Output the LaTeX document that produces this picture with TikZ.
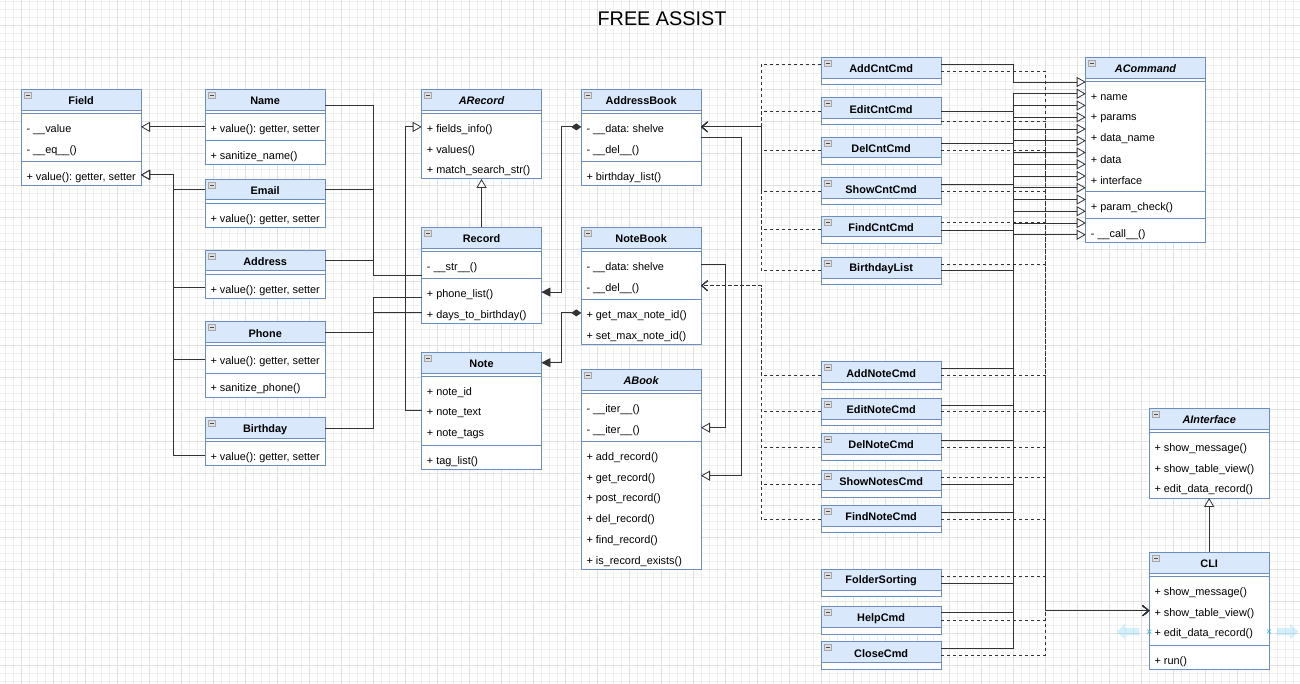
\documentclass[tikz,border=0pt]{standalone}
\usepackage{fontspec}
\setmainfont{Liberation Sans}
\usetikzlibrary{arrows.meta,calc}
\frenchspacing

\definecolor{umlhead}{HTML}{DAE8FC}
\definecolor{umlborder}{HTML}{6C8EBF}
\definecolor{linegray}{HTML}{333333}
\definecolor{gridminor}{HTML}{F0F0F0}
\definecolor{gridmajor}{HTML}{E0E0E0}
\definecolor{hoverblue}{HTML}{29B6F2}

\newcommand{\umlfont}{\fontsize{10.9}{12}\selectfont}

\tikzset{
  classbody/.style={draw=umlborder, fill=white, line width=0.8pt, inner sep=0pt, outer sep=0pt},
  classhead/.style={draw=umlborder, fill=umlhead, line width=0.8pt, inner sep=0pt, outer sep=0pt,
    minimum height=20.8pt},
  headtext/.style={inner sep=0pt, font=\umlfont\bfseries},
  rowtext/.style={inner sep=0pt, anchor=west},
  sepline/.style={draw=umlborder, line width=0.8pt},
  iconbox/.style={draw=gray!70, fill=gray!25, line width=0.5pt},
  link/.style={draw=linegray, line width=0.8pt},
  inherit/.style={link, -{Triangle[length=9pt, width=10pt, fill=white]}},
  owns/.style={link, {Diamond[length=10pt, width=7pt]}-{Triangle[length=9pt, width=9pt]}},
  uses/.style={link, dash pattern=on 3pt off 3pt, -{Straight Barb[length=6pt, width=10pt]}},
}

% class box: name, left, top, width, title, rows (s/ separator, g/ empty strip, t/ text row)
\newcommand{\umlclass}[6]{%
  \xdef\classh{20.8}%
  \foreach \kind/\txt in {#6}{%
    \if t\kind\pgfmathsetmacro{\tmph}{\classh+20.8}\else\pgfmathsetmacro{\tmph}{\classh+6.4}\fi
    \xdef\classh{\tmph}}%
  \node[classbody, minimum width=#4pt, minimum height=\classh pt, anchor=north west] (#1) at (#2,#3) {};
  \node[classhead, minimum width=#4pt, anchor=north west] (#1-head) at (#2,#3) {};
  \node[headtext] at ($(#1-head.center)+(0,1.2)$) {#5};
  \draw[iconbox] (#2+3,#3+3) rectangle ++(7,6);
  \draw[black!70, line width=0.5pt] (#2+4.5,#3+6) -- ++(4,0);
  \pgfmathsetmacro{\tmpy}{#3+20.8}\xdef\classy{\tmpy}%
  \xdef\classk{0}%
  \foreach \kind/\txt in {#6}{%
    \if t\kind
      \pgfmathtruncatemacro{\tmpk}{\classk+1}\xdef\classk{\tmpk}%
      \coordinate (#1-\classk) at (#2+5,\classy+10.4);
      \node[rowtext] at (#2+5,\classy+13) {\txt};
      \pgfmathsetmacro{\tmpy}{\classy+20.8}%
    \else
      \if s\kind\draw[sepline] (#2,\classy+3.2) -- ++(#4,0);\fi
      \pgfmathsetmacro{\tmpy}{\classy+6.4}%
    \fi
    \xdef\classy{\tmpy}}%
}

\begin{document}
\begin{tikzpicture}[x=1pt, y=-1pt, font=\umlfont]

% canvas and grid
\useasboundingbox (0,0) rectangle (1300,684);
\fill[white] (0,0) rectangle (1300,684);
\foreach \gx in {5.3,13.3,...,1300} \draw[gridminor, line width=0.6pt] (\gx,0) -- (\gx,684);
\foreach \gy in {1.3,9.3,...,684} \draw[gridminor, line width=0.6pt] (0,\gy) -- (1300,\gy);
\foreach \gx in {21.3,53.3,...,1300} \draw[gridmajor, line width=0.6pt] (\gx,0) -- (\gx,684);
\foreach \gy in {25.3,57.3,...,684} \draw[gridmajor, line width=0.6pt] (0,\gy) -- (1300,\gy);

\node[font=\fontsize{19.8}{22}\selectfont] (heading) at (662,19) {FREE ASSIST};

% fields
\umlclass{field}{21.3}{89.3}{119.7}{Field}{s/, t/- \_\_value, t/- \_\_eq\_\_(), s/, t/{+ value(): getter, setter}}
\umlclass{name}{205.3}{89.3}{119.7}{Name}{s/, t/{+ value(): getter, setter}, s/, t/+ sanitize\_name()}
\umlclass{email}{205.3}{179}{119.7}{Email}{s/, t/{+ value(): getter, setter}}
\umlclass{address}{205.3}{250}{119.7}{Address}{s/, t/{+ value(): getter, setter}}
\umlclass{phone}{205.3}{321.7}{119.7}{Phone}{s/, t/{+ value(): getter, setter}, s/, t/+ sanitize\_phone()}
\umlclass{birthday}{205.3}{417.7}{119.7}{Birthday}{s/, t/{+ value(): getter, setter}}

% records
\umlclass{arecord}{421.7}{89.3}{119.7}{\itshape ARecord}{s/, t/+ fields\_info(), t/+ values(), t/+ match\_search\_str()}
\umlclass{record}{421.7}{227.3}{119.7}{Record}{s/, t/- \_\_str\_\_(), s/, t/+ phone\_list(), t/+ days\_to\_birthday()}
\umlclass{note}{421.7}{352.3}{119.7}{Note}{s/, t/+ note\_id, t/+ note\_text, t/+ note\_tags, s/, t/+ tag\_list()}

% books
\umlclass{addressbook}{581.3}{89.3}{119.7}{AddressBook}{s/, t/- \_\_data: shelve, t/- \_\_del\_\_(), s/, t/+ birthday\_list()}
\umlclass{notebook}{581.3}{227.3}{119.7}{NoteBook}{s/, t/- \_\_data: shelve, t/- \_\_del\_\_(), s/, t/+ get\_max\_note\_id(), t/+ set\_max\_note\_id()}
\umlclass{abook}{581.3}{369.3}{119.7}{\itshape ABook}{s/, t/- \_\_iter\_\_(), t/- \_\_iter\_\_(), s/, t/+ add\_record(), t/+ get\_record(), t/+ post\_record(), t/+ del\_record(), t/+ find\_record(), t/+ is\_record\_exists()}

% commands and interface
\foreach \id/\ctop/\cname in {addcnt/57.3/AddCntCmd, editcnt/97.7/EditCntCmd, delcnt/137/DelCntCmd,
    showcnt/177.7/ShowCntCmd, findcnt/216/FindCntCmd, bdaylist/257.3/BirthdayList,
    addnote/361.7/AddNoteCmd, editnote/398.3/EditNoteCmd, delnote/433.3/DelNoteCmd,
    shownotes/470/ShowNotesCmd, findnote/505.3/FindNoteCmd, foldersort/569.3/FolderSorting,
    helpcmd/606.7/HelpCmd, closecmd/641.7/CloseCmd}
  \umlclass{\id}{821.3}{\ctop}{119.7}{\cname}{g/};
\umlclass{acommand}{1085.7}{57.3}{119.7}{\itshape ACommand}{s/, t/+ name, t/+ params, t/+ data\_name, t/+ data, t/+ interface, s/, t/+ param\_check(), s/, t/- \_\_call\_\_()}
\umlclass{ainterface}{1149.3}{408.3}{119.7}{\itshape AInterface}{s/, t/+ show\_message(), t/+ show\_table\_view(), t/+ edit\_data\_record()}
\umlclass{cli}{1149.3}{552.3}{119.7}{CLI}{s/, t/+ show\_message(), t/+ show\_table\_view(), t/+ edit\_data\_record(), s/, t/+ run()}

% bus lines
\coordinate (fbus) at (173.3,0);
\coordinate (rbus) at (373.3,0);
\coordinate (nbus) at (405.7,0);
\coordinate (cbus) at (561.7,0);
\coordinate (nbbus) at (725,0);
\coordinate (abbus) at (741,0);
\coordinate (lbus) at (761,0);
\coordinate (sbus) at (1013.3,0);
\coordinate (dbus) at (1045,0);
\coordinate (strend) at ($(record-1)+(0,10.4)$);

% field hierarchy
\draw[inherit] (name.west |- name-1) -- (field.east |- name-1);
\foreach \cls/\row in {email/email-head, address/address-1, phone/phone-1, birthday/birthday-1}
  \draw[inherit] (\cls.west |- \row) -| (fbus |- field-3) -- (field.east |- field-3);

% fields in a record
\draw[link] ($(name-head.east)+(0,6)$) -| (rbus |- strend) -- (record.west |- strend);
\draw[link] (email.east |- email-head) -| (rbus |- strend);
\draw[link] (address.east |- address-head) -| (rbus |- strend);
\draw[link] (phone.east |- phone-head) -| ($(rbus |- record-2)+(0,5)$) -- ($(record.west |- record-2)+(0,5)$);
\draw[link] (birthday.east |- birthday-head) -| (rbus |- record-3) -- (record.west |- record-3);

% record hierarchy
\draw[inherit] (record.north) -- (arecord.south);
\draw[inherit] (note.west |- note-2) -| (nbus |- arecord-1) -- (arecord.west |- arecord-1);

% books
\draw[owns] (addressbook.west |- addressbook-1) -| (cbus |- record-2) -- (record.east |- record-2);
\draw[owns] (notebook.west |- notebook-3) -| (cbus |- note-head) -- (note.east |- note-head);
\draw[inherit] ($(addressbook.east |- addressbook-1)+(0,10.4)$) -| (abbus |- abook-4) -- (abook.east |- abook-4);
\draw[inherit] (notebook.east |- notebook-1) -| (nbbus |- abook-2) -- (abook.east |- abook-2);

% commands use the books
\foreach \id/\dy in {addcnt/7, editcnt/13.3, delcnt/13, showcnt/13.3, findcnt/13.3, bdaylist/13.4}
  \draw[uses] ($(\id.north west)+(0,\dy)$) -| (lbus |- addressbook-1) -- (addressbook.east |- addressbook-1);
\foreach \id/\dy in {addnote/13.3, editnote/13.4, delnote/14, shownotes/14, findnote/14}
  \draw[uses] ($(\id.north west)+(0,\dy)$) -| (lbus |- notebook-2) -- (notebook.east |- notebook-2);

% commands extend ACommand and use the CLI
\foreach \id/\rs/\rd/\ty in {addcnt/7/13.7/82, editcnt/13.3/23.3/93.75, delcnt/6.7/13/105.5,
    showcnt/6.6/13.3/117.25, findcnt/14/6.7/129, bdaylist/13.4/7/140.75, addnote/6.6/13.3/152.5,
    editnote/6.7/13.4/164.25, delnote/6.7/14/176, shownotes/14/7.3/187.75, findnote/7/14/199.5,
    foldersort/14/6.7/211.25, helpcmd/6/13.3/223, closecmd/7/13.6/234.75}{
  \draw[inherit] ($(\id.north east)+(0,\rs)$) -| ($(sbus)+(0,\ty)$) -- ($(acommand.west |- sbus)+(0,\ty)$);
  \draw[uses] ($(\id.north east)+(0,\rd)$) -| (dbus |- cli-2) -- (cli.west |- cli-2);
}

% interface
\draw[inherit] (cli.north) -- (ainterface.south);

% hover marks round the CLI row
\fill[hoverblue, opacity=0.2] (1139.3,628) -- (1125,628) -- (1125,624) -- (1116.7,631.7) -- (1125,639.3) -- (1125,635.3) -- (1139.3,635.3) -- cycle;
\fill[hoverblue, opacity=0.2] (1276.7,628) -- (1290,628) -- (1290,624) -- (1298.3,631.7) -- (1290,639.3) -- (1290,635.3) -- (1276.7,635.3) -- cycle;
\draw[hoverblue, line width=0.6pt] (cli.west |- cli-3) ++(-2,-2) -- ++(4,4) ++(-4,0) -- ++(4,-4);
\draw[hoverblue, line width=0.6pt] (cli.east |- cli-3) ++(-2,-2) -- ++(4,4) ++(-4,0) -- ++(4,-4);

\end{tikzpicture}
\end{document}
